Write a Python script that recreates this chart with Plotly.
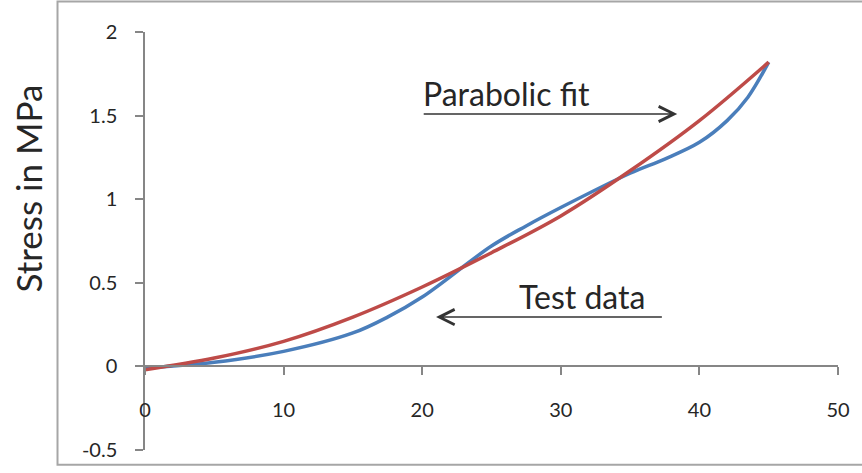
import plotly.graph_objects as go

# Data
fit_x = [0, 5, 10, 15, 20, 25, 30, 35, 40, 45]
fit_y = [-0.02, 0.05, 0.15, 0.295, 0.475, 0.68, 0.90, 1.17, 1.47, 1.82]

test_x = [0, 5, 10, 15, 17.5, 20, 25, 27.5, 30, 35, 37.5, 40, 42, 43.5, 45]
test_y = [-0.01, 0.025, 0.09, 0.20, 0.295, 0.415, 0.72, 0.84, 0.95, 1.155, 1.24, 1.34, 1.47, 1.61, 1.82]

x_ticks = [0, 10, 20, 30, 40, 50]
x_tick_labels = ["0", "10", "20", "30", "40", "50"]
y_ticks = [-0.5, 0, 0.5, 1, 1.5, 2]
y_tick_labels = ["-0.5", "0", "0.5", "1", "1.5", "2"]

BLUE = "#4A7EBB"
RED = "#BE4B48"
AXIS = "#868686"
TXT = "#262626"
FONT = "Lato, Carlito, Calibri, sans-serif"

fig = go.Figure()
fig.add_trace(go.Scatter(x=test_x, y=test_y, mode="lines", name="Test data",
                         line=dict(color=BLUE, width=3.5, shape="spline", smoothing=1.0)))
fig.add_trace(go.Scatter(x=fit_x, y=fit_y, mode="lines", name="Parabolic fit",
                         line=dict(color=RED, width=3.5, shape="spline", smoothing=1.0)))

W, H = 862, 473
L, R, T, B = 145, 20, 32, 17

fig.update_layout(
    width=W, height=H,
    margin=dict(l=L, r=R, t=T, b=B),
    paper_bgcolor="white", plot_bgcolor="white",
    showlegend=False,
    font=dict(family=FONT, color=TXT),
    xaxis=dict(range=[0, 50], tickvals=x_ticks, ticktext=x_tick_labels,
               showgrid=False, zeroline=False, showline=True, linecolor=AXIS, linewidth=1.5,
               ticks="outside", ticklen=8, tickcolor=AXIS, tickwidth=1.5,
               anchor="free", position=0.2, ticklabelstandoff=18,
               tickfont=dict(size=20, color=TXT, family=FONT)),
    yaxis=dict(range=[-0.5, 2], tickvals=y_ticks, ticktext=y_tick_labels,
               showgrid=False, zeroline=False, showline=True, linecolor=AXIS, linewidth=1.5,
               ticks="outside", ticklen=8, tickcolor=AXIS, tickwidth=1.5,
               ticklabelstandoff=14,
               tickfont=dict(size=20, color=TXT, family=FONT)),
)

# chart frame
pw, ph = W - L - R, H - T - B
def px_x(p):
    return (p - L) / pw
def px_y(p):
    return (H - B - p) / ph
fig.add_shape(type="rect", xref="paper", yref="paper",
              x0=px_x(57), x1=px_x(875), y0=px_y(471), y1=px_y(1),
              line=dict(color="#A6A6A6", width=2), fillcolor="rgba(0,0,0,0)", layer="below")

# y-axis title
fig.add_annotation(xref="paper", yref="paper", x=px_x(27), y=px_y(191),
                   xanchor="center", yanchor="middle",
                   text="Stress in MPa", showarrow=False, textangle=-90,
                   font=dict(size=35, color=TXT, family=FONT))

# labels
fig.add_annotation(x=26.1, y=1.63, xref="x", yref="y", text="Parabolic fit",
                   showarrow=False, font=dict(size=32, color=TXT, family=FONT))
fig.add_annotation(x=31.5, y=0.42, xref="x", yref="y", text="Test data",
                   showarrow=False, font=dict(size=32, color=TXT, family=FONT))

# arrows
fig.add_annotation(x=38.4, y=1.51, ax=20.0, ay=1.51, xref="x", yref="y", axref="x", ayref="y",
                   text="", showarrow=True, arrowhead=5, arrowsize=2, arrowwidth=1.5,
                   arrowcolor="#333333", standoff=0)
fig.add_annotation(x=21.0, y=0.295, ax=37.4, ay=0.295, xref="x", yref="y", axref="x", ayref="y",
                   text="", showarrow=True, arrowhead=5, arrowsize=2, arrowwidth=1.5,
                   arrowcolor="#333333", standoff=0)

fig.write_html("out.html")
